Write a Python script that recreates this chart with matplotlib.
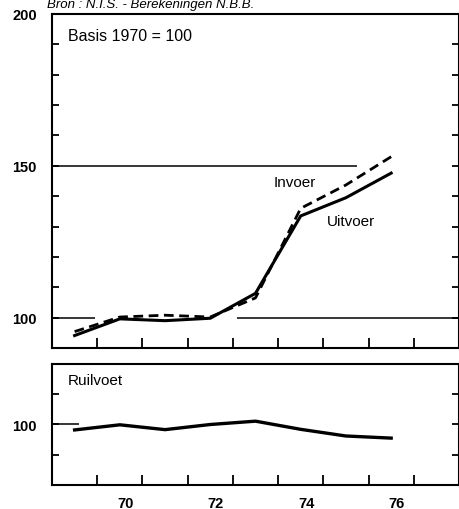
import numpy as np
import matplotlib.pyplot as plt

plt.rcParams['font.family'] = ['Liberation Sans', 'DejaVu Sans']

# data (index, 1970 = 100)
years = [69, 70, 71, 72, 73, 74, 75, 76]
uitvoer = [94.1, 99.6, 99.0, 99.8, 108.0, 133.5, 139.5, 147.6]
invoer = [95.4, 100.2, 100.8, 100.2, 106.5, 136.0, 143.7, 153.0]
ruilvoet = [98.2, 99.9, 98.3, 100.0, 101.1, 98.4, 96.2, 95.5]

year_ticks = [70, 72, 74, 76]
year_labels = ['70', '72', '74', '76']

fig = plt.figure(figsize=(4.6, 5.1), dpi=100)
W, H = 460, 510

def px_axes(left, top, right, bottom):
    return fig.add_axes([left / W, 1 - bottom / H, (right - left) / W, (bottom - top) / H])

ax1 = px_axes(52, 15, 459, 349)
ax2 = px_axes(52, 365, 459, 486)

for ax in (ax1, ax2):
    ax.set_xlim(68.5, 77.5)
    for s in ax.spines.values():
        s.set_linewidth(1.5)
    ax.set_xticks(np.arange(69.5, 77, 1.0))
    ax.set_xticklabels([])
    ax.tick_params(axis='x', direction='in', length=7, width=1.3, top=False)
    ax.tick_params(axis='y', direction='in', length=5, width=1.3, left=True, right=True,
                   labelsize=10.5, pad=11)

# top panel
ax1.set_ylim(90, 200)
ax1.set_yticks(np.arange(100, 201, 10))
ax1.set_yticklabels(['100', '', '', '', '', '150', '', '', '', '', '200'], fontweight='bold')
ax1.hlines(150, 68.5, 75.25, color='black', lw=1.1)
ax1.hlines(100, 68.5, 69.45, color='black', lw=1.1)
ax1.hlines(100, 72.6, 77.5, color='black', lw=1.1)
ax1.plot(years, uitvoer, color='black', lw=2.2, solid_joinstyle='round')
ax1.plot(years, invoer, color='black', lw=2.0, ls=(0, (3.5, 2)))
ax1.text(68.85, 195.5, 'Basis 1970 = 100', fontsize=11.5, va='top')
ax1.text(73.4, 143.3, 'Invoer', fontsize=11)
ax1.text(74.57, 130.5, 'Uitvoer', fontsize=11)
ax1.text(68.4, 202.2, 'Bron : N.I.S. - Berekeningen N.B.B.', fontsize=9.5,
         style='italic', clip_on=False)

# bottom panel
ax2.set_ylim(80, 120)
ax2.set_yticks([90, 100, 110])
ax2.set_yticklabels(['', '100', ''], fontweight='bold')
ax2.hlines(100, 68.5, 69.1, color='black', lw=1.1)
ax2.plot(years, ruilvoet, color='black', lw=2.4)
ax2.text(68.85, 117, 'Ruilvoet', fontsize=11, va='top')

for x, lab in zip(year_ticks, year_labels):
    ax2.text(x + 0.12, 76.2, lab, fontsize=10.5, fontweight='bold', ha='center', va='top')

fig.savefig('out.png', dpi=100)
